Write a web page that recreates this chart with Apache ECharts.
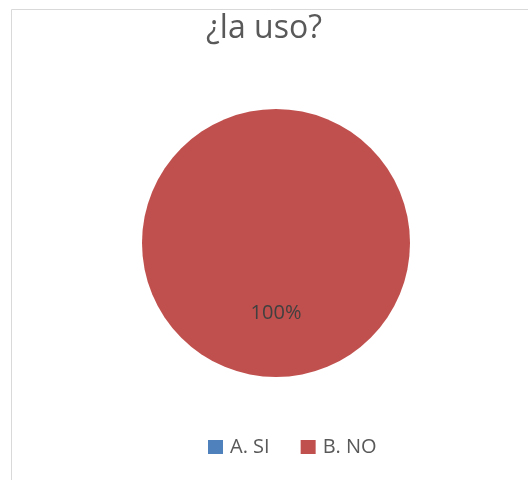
<!DOCTYPE html>
<html>
<head>
<meta charset="utf-8">
<script src="https://cdn.jsdelivr.net/npm/echarts@6/dist/echarts.min.js"></script>
<style>
  html, body { margin: 0; padding: 0; background: #fff; }
  #chart { width: 528px; height: 480px; }
</style>
</head>
<body>
<div id="chart"></div>
<script>
// Answers to "¿la uso?"
const categories = ['A. SI', 'B. NO'];
const counts = [0, 100];
const colors = ['#4F81BD', '#C0504D'];

const total = counts.reduce((a, b) => a + b, 0);
const pieData = categories.map((name, i) => ({
  name: name,
  value: counts[i],
  itemStyle: { color: colors[i] },
  label: { show: counts[i] > 0 }
}));

const chart = echarts.init(document.getElementById('chart'), null, { renderer: 'canvas' });
chart.setOption({
  animation: false,
  textStyle: { fontFamily: 'Open Sans' },
  graphic: [{
    type: 'rect',
    shape: { x: 11.5, y: 9.5, width: 600, height: 600 },
    style: { fill: 'none', stroke: '#d9d9d9', lineWidth: 1 },
    silent: true
  }],
  title: {
    text: '¿la uso?',
    left: 'center',
    top: 8,
    textStyle: { fontFamily: 'Open Sans', fontSize: 32, fontWeight: 'normal', color: '#595959' }
  },
  legend: {
    top: 432,
    left: 203,
    itemWidth: 15,
    itemHeight: 14,
    itemGap: 31,
    icon: 'rect',
    textStyle: { fontFamily: 'Open Sans', fontSize: 20, color: '#595959', padding: [0, 0, 0, 2] },
    data: categories
  },
  series: [{
    type: 'pie',
    center: [276, 243],
    radius: [0, 134],
    startAngle: 90,
    clockwise: true,
    minAngle: 0,
    avoidLabelOverlap: false,
    label: {
      position: 'inside',
      fontFamily: 'Open Sans',
      fontSize: 20,
      color: '#404040',
      formatter: p => Math.round(p.value / total * 100) + '%'
    },
    labelLine: { show: false },
    itemStyle: { borderWidth: 0 },
    emphasis: { disabled: true },
    data: pieData
  }]
});
</script>
</body>
</html>
